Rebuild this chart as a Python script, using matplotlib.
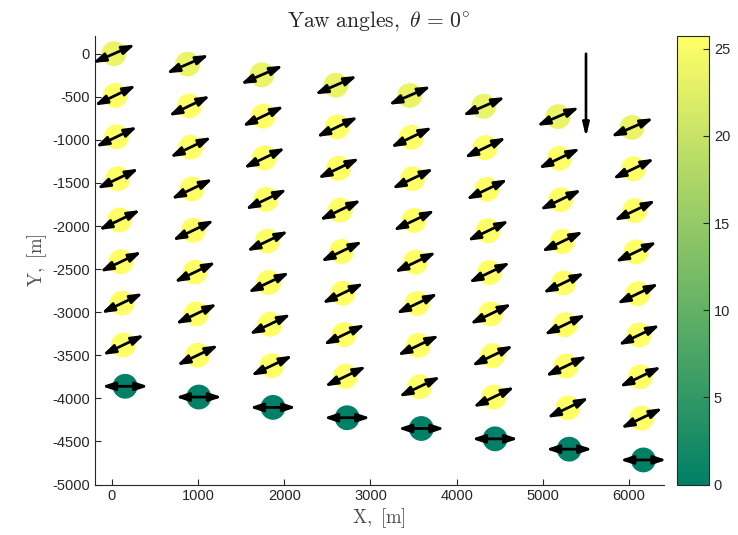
import numpy as np
import matplotlib
matplotlib.use("Agg")
import matplotlib.pyplot as plt
from matplotlib.patches import FancyArrowPatch

plt.rcParams["font.family"] = ["Liberation Sans", "DejaVu Sans"]
plt.rcParams["mathtext.fontset"] = "cm"
plt.rcParams["axes.unicode_minus"] = False

# Turbine positions [m], one list per column of the farm (top to bottom)
turbine_x = [
    [25, 40, 55, 70, 90, 105, 120, 135, 155],
    [880, 900, 915, 930, 945, 965, 980, 995, 1010],
    [1740, 1755, 1770, 1790, 1805, 1820, 1835, 1855, 1870],
    [2600, 2615, 2630, 2650, 2665, 2680, 2695, 2710, 2730],
    [3455, 3475, 3490, 3505, 3520, 3540, 3555, 3570, 3590],
    [4315, 4330, 4350, 4365, 4380, 4395, 4415, 4430, 4445],
    [5175, 5190, 5205, 5225, 5240, 5255, 5270, 5290, 5305],
    [6035, 6050, 6065, 6080, 6100, 6115, 6130, 6145, 6165],
]
turbine_y = [
    [0, -485, -965, -1450, -1930, -2415, -2895, -3380, -3860],
    [-120, -605, -1085, -1570, -2050, -2535, -3020, -3500, -3985],
    [-245, -725, -1210, -1690, -2175, -2655, -3140, -3620, -4105],
    [-365, -850, -1330, -1815, -2295, -2780, -3260, -3745, -4225],
    [-485, -970, -1450, -1935, -2420, -2900, -3385, -3865, -4350],
    [-610, -1090, -1575, -2055, -2540, -3020, -3505, -3985, -4470],
    [-730, -1215, -1695, -2180, -2660, -3145, -3625, -4110, -4590],
    [-855, -1335, -1820, -2300, -2785, -3265, -3750, -4230, -4715],
]
# Yaw angle [deg] of each turbine, same layout as the positions
yaw_deg = [
    [23.5, 25.7, 25.7, 25.7, 25.7, 25.7, 25.7, 25.7, 0.0],
    [23.5, 25.7, 25.7, 25.7, 25.7, 25.7, 25.7, 25.7, 0.0],
    [23.5, 25.7, 25.7, 25.7, 25.7, 25.7, 25.7, 25.7, 0.0],
    [23.5, 25.7, 25.7, 25.7, 25.7, 25.7, 25.7, 25.7, 0.0],
    [23.5, 25.7, 25.7, 25.7, 25.7, 25.7, 25.7, 25.7, 0.0],
    [23.5, 25.7, 25.7, 25.7, 25.7, 25.7, 25.7, 25.7, 0.0],
    [23.5, 25.7, 25.7, 25.7, 25.7, 25.7, 25.7, 25.7, 0.0],
    [23.5, 25.7, 25.7, 25.7, 25.7, 25.7, 25.7, 25.7, 0.0],
]
rotor_half_length = 268.0   # half-length of the rotor arrow [m]
wind_start = (5500, 0)
wind_end = (5500, -970)
color_ticks = [0, 5, 10, 15, 20, 25]

x = np.array(turbine_x, dtype=float).ravel()
y = np.array(turbine_y, dtype=float).ravel()
yaw = np.array(yaw_deg, dtype=float).ravel()

W, H = 738, 535
fig = plt.figure(figsize=(W / 100, H / 100), dpi=100)
ax = fig.add_axes([94.5 / W, 1 - 484.5 / H, 569.1 / W, 448 / H])
cax = fig.add_axes([677 / W, 1 - 484.5 / H, 32 / W, 448 / H])

sc = ax.scatter(x, y, c=yaw, cmap="summer", vmin=0, vmax=25.7, s=320,
                edgecolors="none", zorder=2)

for xi, yi, th in zip(x, y, yaw):
    t = np.deg2rad(th)
    dx, dy = rotor_half_length * np.cos(t), rotor_half_length * np.sin(t)
    arr = FancyArrowPatch((xi - dx, yi - dy), (xi + dx, yi + dy),
                          arrowstyle="<|-|>,head_length=7.5,head_width=2.5",
                          mutation_scale=1, lw=2.0, color="black",
                          shrinkA=0, shrinkB=0, zorder=3, clip_on=False)
    ax.add_patch(arr)

wind = FancyArrowPatch(wind_start, wind_end,
                       arrowstyle="-|>,head_length=8,head_width=1.9",
                       mutation_scale=1, lw=1.9, color="black",
                       shrinkA=0, shrinkB=0, zorder=3)
ax.add_patch(wind)

ax.set_xlim(-200, 6400)
ax.set_ylim(-5000, 200)
ax.set_xticks([0, 1000, 2000, 3000, 4000, 5000, 6000])
ax.set_yticks(np.arange(-5000, 1, 500))
for side in ("top", "right"):
    ax.spines[side].set_visible(False)
for side in ("left", "bottom"):
    ax.spines[side].set_color("#262626")
    ax.spines[side].set_linewidth(0.8)
ax.tick_params(direction="in", length=4, width=0.8, color="#262626",
               labelsize=10.5, labelcolor="#262626")

ax.set_title(r"$\mathrm{Yaw\ angles,}\ \theta\,=\,0^{\circ}$", fontsize=15.5,
             color="#262626", pad=7)
ax.set_xlabel(r"$\mathrm{X,\ [m]}$", fontsize=13.5, color="#4d4d4d", labelpad=2)
ax.set_ylabel(r"$\mathrm{Y,\ [m]}$", fontsize=13.5, color="#4d4d4d", labelpad=2)

cb = fig.colorbar(sc, cax=cax)
cb.set_ticks(color_ticks)
cb.ax.tick_params(direction="in", length=4, width=0.8, color="#262626",
                  labelsize=10.5, labelcolor="#262626")
cb.outline.set_edgecolor("#262626")
cb.outline.set_linewidth(0.8)

fig.savefig("out.png", dpi=100)
